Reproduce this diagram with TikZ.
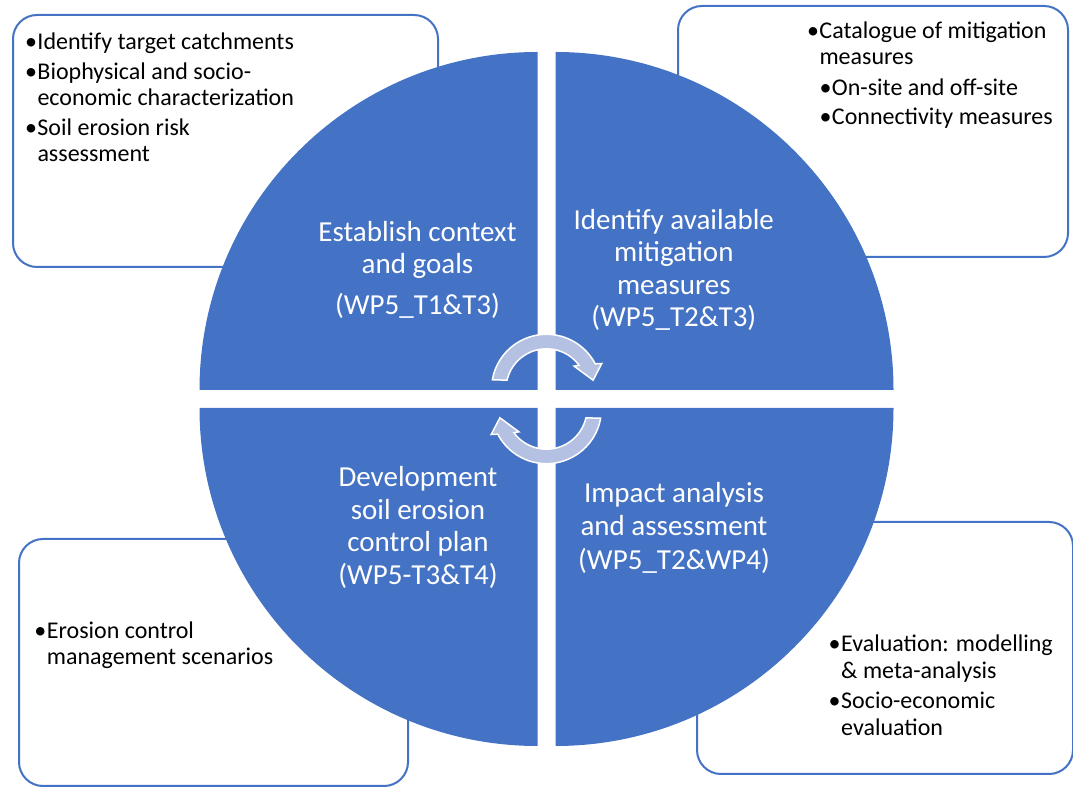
\documentclass[tikz,border=0pt]{standalone}
\usepackage{fontspec}
\setmainfont{Carlito}
\usetikzlibrary{calc}

\definecolor{quadblue}{HTML}{4472C4}
\definecolor{arrowfill}{HTML}{B4C1E3}

% bullet with a fixed hanging width
\newcommand\bul{\makebox[12.5pt][l]{•}}

\begin{document}
\begin{tikzpicture}[x=1pt,y=1pt,
  infobox/.style={draw=quadblue, line width=2pt, fill=white, rounded corners=24pt,
    inner sep=0pt, anchor=south west},
  boxtext/.style={anchor=base west, inner sep=0pt,
    font=\fontsize{24}{26.5}\selectfont, text=black},
  quadtext/.style={anchor=base, inner sep=0pt,
    font=\fontsize{29}{32.5}\selectfont, text=white},
  quadrant/.style={fill=quadblue},
  cyclearrow/.pic={
    \path[fill=arrowfill, draw=white, line width=1.5pt]
      (170:55) arc[start angle=170, end angle=27.6, radius=55]
      -- (25:61) -- (11:47.5) -- (40:36) -- (36.4:40.5)
      arc[start angle=36.4, end angle=167, radius=40.5] -- cycle;
  }]
\useasboundingbox (0,0) rectangle (1073,789);

% outer information boxes
\node[infobox, minimum width=425pt, minimum height=252pt] (boxTL) at (12,521) {};
\node[infobox, minimum width=390pt, minimum height=251pt] (boxTR) at (677,531) {};
\node[infobox, minimum width=389pt, minimum height=247pt] (boxBL) at (18,2) {};
\node[infobox, minimum width=376pt, minimum height=252pt] (boxBR) at (696,14) {};

\node[boxtext] (listTL) at (24.8,739) {\begin{tabular}[t]{@{}l@{}}
  \bul Identify target catchments\\[3pt]
  \bul Biophysical and socio-\\
  \hspace{12.5pt}economic characterization\\[3pt]
  \bul Soil erosion risk\\
  \hspace{12.5pt}assessment
\end{tabular}};

\node[boxtext] (listTR) at (806.8,750.7) {\begin{tabular}[t]{@{}l@{}}
  \bul Catalogue of mitigation\\
  \hspace{12.5pt}measures\\[4pt]
  \hspace{12.5pt}\bul On-site and off-site\\[3pt]
  \hspace{12.5pt}\bul Connectivity measures
\end{tabular}};

\node[boxtext] (listBL) at (34.2,150.7) {\begin{tabular}[t]{@{}l@{}}
  \bul Erosion control\\
  \hspace{12.5pt}management scenarios
\end{tabular}};

\node[boxtext] (listBR) at (828.5,137.3) {\begin{tabular}[t]{@{}l@{}}
  \bul Evaluation: modelling\\
  \hspace{12.5pt}\& meta-analysis\\[4pt]
  \bul Socio-economic\\
  \hspace{12.5pt}evaluation
\end{tabular}};

% four pie quadrants
\fill[quadrant] (537.5,399) -- ++(-338,0) arc[start angle=180, end angle=90, radius=338] -- cycle;
\fill[quadrant] (555.5,399) -- ++(0,338) arc[start angle=90, end angle=0, radius=338] -- cycle;
\fill[quadrant] (537.5,381) -- ++(0,-338) arc[start angle=270, end angle=180, radius=338] -- cycle;
\fill[quadrant] (555.5,381) -- ++(338,0) arc[start angle=0, end angle=-90, radius=338] -- cycle;

% quadrant labels
\node[quadtext] (stepTL) at (417.5,547.7) {\begin{tabular}[t]{@{}c@{}}
  Establish context\\
  and goals\\[8.5pt]
  (WP5\_T1\&T3)
\end{tabular}};
\node[quadtext] (stepTR) at (673.8,559.5) {\begin{tabular}[t]{@{}c@{}}
  Identify available\\
  mitigation\\
  measures\\
  (WP5\_T2\&T3)
\end{tabular}};
\node[quadtext] (stepBL) at (418,302) {\begin{tabular}[t]{@{}c@{}}
  Development\\
  soil erosion\\
  control plan\\
  (WP5-T3\&T4)
\end{tabular}};
\node[quadtext] (stepBR) at (674,286) {\begin{tabular}[t]{@{}c@{}}
  Impact analysis\\
  and assessment\\[1.5pt]
  (WP5\_T2\&WP4)
\end{tabular}};

% cycle arrows in the centre
\pic at (546.5,399.7) {cyclearrow};
\pic[rotate=180] at (546.5,380.3) {cyclearrow};
\end{tikzpicture}
\end{document}
